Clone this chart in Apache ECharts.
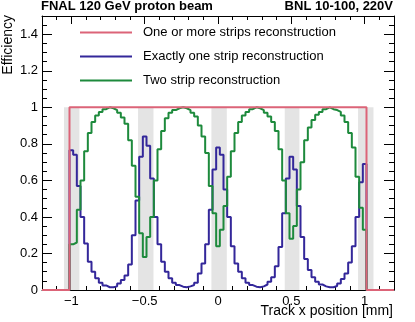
<!DOCTYPE html>
<html><head><meta charset="utf-8">
<script src="https://cdn.jsdelivr.net/npm/echarts@6/dist/echarts.min.js"></script>
<style>html,body{margin:0;padding:0;background:#fff}#c{width:415px;height:322px}</style>
</head><body><div id="c"></div>
<script>
// ---- data ----
const binWidth = 0.025;
const firstBinCenter = -1.0;
const seriesNames = ['One or more strips reconstruction', 'Exactly one strip reconstruction', 'Two strip reconstruction'];
const oneOrMore = [
  1,1,1,1,1,1,1,1,1,1,1,1,1,1,1,1,1,1,1,1,1,1,1,1,1,1,1,1,1,1,1,1,1,1,1,1,1,1,1,1,
  1,
  1,1,1,1,1,1,1,1,1,1,1,1,1,1,1,1,1,1,1,1,1,1,1,1,1,1,1,1,1,1,1,1,1,1,1,1,1,1,1,1
];
const exactlyOne = [
  0.765,0.74,0.57,0.40,0.255,0.155,0.10,0.064,0.04,0.025,
  0.015,0.015,0.02,0.035,0.055,0.08,0.14,0.30,0.49,0.73,
  0.84,0.79,0.61,0.40,0.25,0.155,0.10,0.065,0.04,0.027,
  0.018,0.015,0.02,0.027,0.04,0.09,0.145,0.25,0.44,0.66,
  0.78,
  0.74,0.55,0.40,0.24,0.145,0.10,0.064,0.04,0.027,0.018,
  0.015,0.02,0.03,0.045,0.07,0.13,0.235,0.42,0.61,0.73,
  0.66,0.46,0.29,0.17,0.11,0.07,0.045,0.03,0.02,0.015,
  0.015,0.022,0.035,0.06,0.09,0.15,0.24,0.40,0.59,0.69
];
const twoStrip = [
  0.25,0.26,0.44,0.60,0.76,0.86,0.92,0.955,0.975,0.99,
  1.0,0.995,0.985,0.97,0.945,0.91,0.82,0.68,0.51,0.31,
  0.18,0.29,0.40,0.60,0.77,0.87,0.94,0.97,0.985,0.995,
  1.0,0.995,0.985,0.97,0.95,0.90,0.84,0.75,0.57,0.42,
  0.24,
  0.33,0.46,0.62,0.76,0.86,0.92,0.955,0.975,0.99,1.0,
  0.995,0.985,0.97,0.95,0.92,0.87,0.77,0.60,0.42,0.28,
  0.35,0.55,0.70,0.82,0.89,0.93,0.96,0.975,0.99,1.0,
  0.99,0.985,0.975,0.955,0.92,0.86,0.78,0.62,0.45,0.33
];
const gapBands = [[-1.05,-0.945],[-0.545,-0.44],[-0.045,0.06],[0.455,0.555],[0.955,1.06]];
const bandTop = 1;
const xMajorTicks = [-1, -0.5, 0, 0.5, 1];
const yMajorTicks = [0, 0.2, 0.4, 0.6, 0.8, 1, 1.2, 1.4];
const xRange = [-1.2, 1.2];
const yRange = [0, 1.5];
const colors = ['#dc6478', '#33279a', '#1d8a3c'];

// ---- build step-histogram points from bins ----
function histPoints(values) {
  const pts = [[xRange[0], 0]];
  values.forEach((v, i) => {
    pts.push([+(firstBinCenter + (i - 0.5) * binWidth).toFixed(5), v]);
  });
  pts.push([+(firstBinCenter + (values.length - 0.5) * binWidth).toFixed(5), 0]);
  pts.push([xRange[1], 0]);
  return pts;
}
const fmt = v => (v < 0 ? '\u2212' + Math.abs(v) : String(v));
const FONT = 'Liberation Sans, Arial, Helvetica, sans-serif';
const lab = { color: '#000', fontFamily: FONT, fontSize: 13 };

const chart = echarts.init(document.getElementById('c'), null, { renderer: 'canvas' });
const baseX = { type: 'value', min: xRange[0], max: xRange[1], splitLine: { show: false }, offset: 0 };
const baseY = { type: 'value', min: yRange[0], max: yRange[1], splitLine: { show: false }, offset: 0 };
const lineOn = { show: true, onZero: false, lineStyle: { color: '#000', width: 1 } };
const lineOff = { show: false, onZero: false };
chart.setOption({
  animation: false,
  backgroundColor: '#fff',
  title: [
    { text: 'FNAL 120 GeV proton beam', left: 41, top: 0, padding: 0,
      textStyle: { fontFamily: FONT, fontSize: 13, fontWeight: 'bold', color: '#000' } },
    { text: 'BNL 10-100, 220V', right: 22, top: 0, padding: 0,
      textStyle: { fontFamily: FONT, fontSize: 13, fontWeight: 'bold', color: '#000' } }
  ],
  legend: {
    data: seriesNames, orient: 'vertical', left: 80, top: 25, padding: 0,
    icon: 'rect', itemWidth: 52, itemHeight: 2, itemGap: 9,
    textStyle: { fontFamily: FONT, fontSize: 13, color: '#000', lineHeight: 15, padding: [0, 0, 0, 6] }
  },
  grid: { left: 42, right: 21, top: 16, bottom: 32, outerBoundsMode: 'none', containLabel: false },
  xAxis: [
    Object.assign({}, baseX, { position: 'bottom', axisLine: lineOn,
      axisTick: { show: true, inside: true, length: 8, customValues: xMajorTicks, lineStyle: { color: '#000' } },
      axisLabel: Object.assign({ customValues: xMajorTicks, margin: 5, formatter: fmt,
        hideOverlap: false, alignMinLabel: 'center', alignMaxLabel: 'center' }, lab) }),
    Object.assign({}, baseX, { position: 'bottom', interval: 0.1, axisLine: lineOff,
      axisTick: { show: true, inside: true, length: 4, lineStyle: { color: '#000' } },
      axisLabel: { show: false } }),
    Object.assign({}, baseX, { position: 'top', axisLine: lineOn,
      axisTick: { show: true, inside: true, length: 8, customValues: xMajorTicks, lineStyle: { color: '#000' } },
      axisLabel: { show: false } }),
    Object.assign({}, baseX, { position: 'top', interval: 0.1, axisLine: lineOff,
      axisTick: { show: true, inside: true, length: 4, lineStyle: { color: '#000' } },
      axisLabel: { show: false } })
  ],
  yAxis: [
    Object.assign({}, baseY, { position: 'left', axisLine: lineOn,
      axisTick: { show: true, inside: true, length: 10, customValues: yMajorTicks, lineStyle: { color: '#000' } },
      axisLabel: Object.assign({ customValues: yMajorTicks, margin: 4 }, lab) }),
    Object.assign({}, baseY, { position: 'left', interval: 0.05, axisLine: lineOff,
      axisTick: { show: true, inside: true, length: 5, lineStyle: { color: '#000' } },
      axisLabel: { show: false } }),
    Object.assign({}, baseY, { position: 'right', axisLine: lineOn,
      axisTick: { show: true, inside: true, length: 10, customValues: yMajorTicks, lineStyle: { color: '#000' } },
      axisLabel: { show: false } }),
    Object.assign({}, baseY, { position: 'right', interval: 0.05, axisLine: lineOff,
      axisTick: { show: true, inside: true, length: 5, lineStyle: { color: '#000' } },
      axisLabel: { show: false } })
  ],
  graphic: [
    { type: 'text', x: 8, y: 15, rotation: Math.PI / 2,
      style: { text: 'Efficiency', fontFamily: FONT, fontSize: 14, fill: '#000', textAlign: 'right', textVerticalAlign: 'middle' } },
    { type: 'text', x: 393, y: 311,
      style: { text: 'Track x position [mm]', fontFamily: FONT, fontSize: 14, fill: '#000', textAlign: 'right', textVerticalAlign: 'middle' } }
  ],
  series: [
    { type: 'custom', name: 'gaps', xAxisIndex: 0, yAxisIndex: 0, z: 1, silent: true,
      data: gapBands, encode: { x: [0, 1] },
      renderItem: function (params, api) {
        const p1 = api.coord([api.value(0), bandTop]);
        const p2 = api.coord([api.value(1), 0]);
        return { type: 'rect', shape: { x: p1[0], y: p1[1], width: p2[0] - p1[0], height: p2[1] - p1[1] },
                 style: { fill: '#e4e4e4' } };
      } },
    { type: 'line', name: seriesNames[1], data: histPoints(exactlyOne), step: 'end', symbol: 'none', z: 3,
      lineStyle: { color: colors[1], width: 2 }, itemStyle: { color: colors[1] } },
    { type: 'line', name: seriesNames[2], data: histPoints(twoStrip), step: 'end', symbol: 'none', z: 3,
      lineStyle: { color: colors[2], width: 2 }, itemStyle: { color: colors[2] } },
    { type: 'line', name: seriesNames[0], data: histPoints(oneOrMore), step: 'end', symbol: 'none', z: 5,
      lineStyle: { color: colors[0], width: 2 }, itemStyle: { color: colors[0] } }
  ]
});
</script></body></html>
